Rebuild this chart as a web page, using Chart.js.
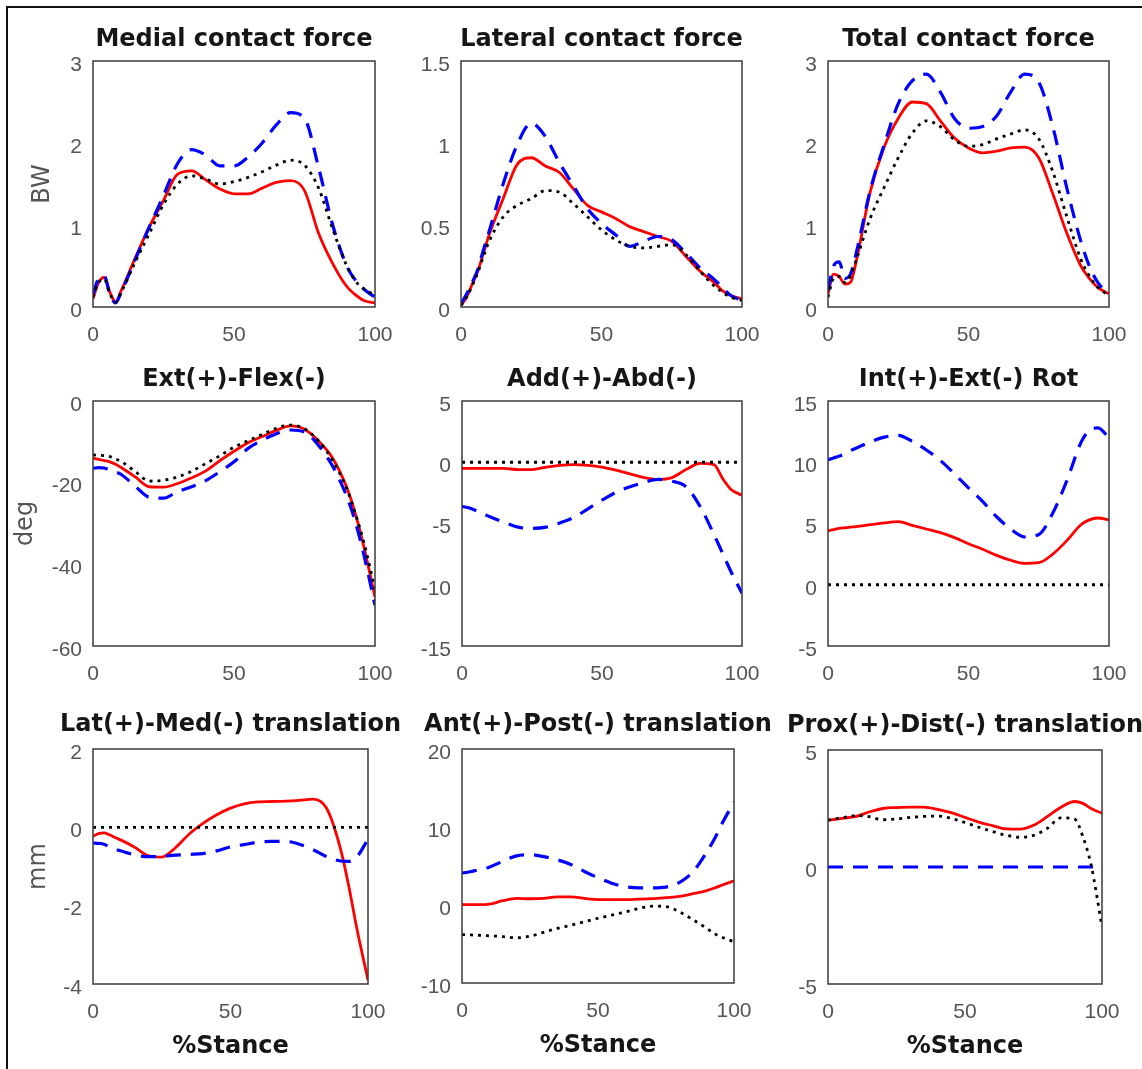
<!DOCTYPE html>
<html>
<head>
<meta charset="utf-8">
<script src="https://cdn.jsdelivr.net/npm/chart.js@4.4.1/dist/chart.umd.min.js"></script>
<style>
  html, body { margin: 0; padding: 0; background: #fff; overflow: hidden; width: 1142px; height: 1069px; }
  .frame { position: absolute; left: 6px; top: 6px; width: 1140px; height: 1070px;
           border-top: 2px solid #111; border-left: 2px solid #111; }
  .panel { position: absolute; }
</style>
</head>
<body>
<div class="frame"></div>
<script>
// % stance sample points shared by every curve
const stance = [0, 2, 4, 6, 8, 10, 15, 20, 25, 30, 35, 40, 45, 50, 55, 60, 65, 70, 75, 80, 85, 90, 93, 96, 100];
const xTicks = [0, 50, 100];

// Medial contact force (BW)
const medialRed   = [0.10, 0.30, 0.36, 0.18, 0.06, 0.20, 0.60, 0.98, 1.30, 1.62, 1.66, 1.55, 1.44, 1.38, 1.38, 1.45, 1.52, 1.54, 1.42, 0.90, 0.53, 0.25, 0.15, 0.08, 0.05];
const medialBlue  = [0.15, 0.35, 0.38, 0.15, 0.05, 0.18, 0.58, 0.98, 1.36, 1.75, 1.92, 1.85, 1.72, 1.72, 1.83, 2.00, 2.22, 2.37, 2.30, 1.70, 1.00, 0.50, 0.33, 0.22, 0.12];
const medialBlack = [0.12, 0.30, 0.34, 0.16, 0.06, 0.18, 0.55, 0.90, 1.25, 1.50, 1.60, 1.56, 1.50, 1.53, 1.58, 1.65, 1.73, 1.79, 1.73, 1.45, 0.95, 0.50, 0.32, 0.22, 0.15];
const medialTicks = [0, 1, 2, 3];

// Lateral contact force (BW)
const lateralRed   = [0.01, 0.06, 0.14, 0.22, 0.33, 0.44, 0.66, 0.87, 0.91, 0.86, 0.82, 0.72, 0.62, 0.58, 0.54, 0.49, 0.46, 0.43, 0.40, 0.31, 0.22, 0.15, 0.10, 0.07, 0.05];
const lateralBlue  = [0.02, 0.08, 0.15, 0.23, 0.35, 0.46, 0.75, 0.99, 1.12, 1.04, 0.88, 0.74, 0.60, 0.51, 0.44, 0.37, 0.40, 0.43, 0.41, 0.33, 0.24, 0.17, 0.12, 0.07, 0.04];
const lateralBlack = [0.01, 0.06, 0.13, 0.21, 0.31, 0.40, 0.55, 0.62, 0.66, 0.71, 0.70, 0.63, 0.55, 0.47, 0.41, 0.37, 0.36, 0.37, 0.38, 0.32, 0.22, 0.13, 0.09, 0.06, 0.04];
const lateralTicks = [0, 0.5, 1, 1.5];

// Total contact force (BW)
const totalRed   = [0.16, 0.40, 0.37, 0.28, 0.30, 0.55, 1.40, 1.95, 2.30, 2.50, 2.48, 2.27, 2.06, 1.94, 1.88, 1.90, 1.94, 1.95, 1.82, 1.38, 0.90, 0.50, 0.35, 0.24, 0.16];
const totalBlue  = [0.20, 0.50, 0.55, 0.35, 0.40, 0.65, 1.42, 1.98, 2.48, 2.76, 2.84, 2.62, 2.30, 2.18, 2.20, 2.33, 2.62, 2.84, 2.74, 2.20, 1.45, 0.80, 0.50, 0.30, 0.16];
const totalBlack = [0.12, 0.35, 0.37, 0.30, 0.38, 0.57, 1.08, 1.46, 1.82, 2.12, 2.27, 2.20, 2.04, 1.96, 1.98, 2.05, 2.11, 2.16, 2.05, 1.65, 1.10, 0.58, 0.38, 0.24, 0.14];
const totalTicks = [0, 1, 2, 3];

// Ext(+)-Flex(-) (deg)
const flexRed   = [-14.0, -14.3, -14.6, -14.9, -15.5, -16.3, -18.6, -21.0, -21.1, -20.2, -18.8, -17.1, -14.6, -12.3, -10.2, -8.7, -7.2, -6.1, -6.9, -9.8, -14.0, -21.2, -27.5, -35.5, -48.0];
const flexBlue  = [-16.5, -16.3, -16.4, -16.9, -17.4, -18.0, -20.9, -23.6, -23.8, -22.2, -21.0, -19.5, -17.3, -14.9, -11.6, -9.6, -8.0, -7.1, -7.6, -10.9, -16.0, -23.4, -29.5, -37.5, -50.0];
const flexBlack = [-13.2, -13.3, -13.4, -13.6, -14.2, -14.8, -17.3, -19.6, -19.4, -18.6, -17.2, -15.3, -13.4, -11.3, -9.7, -8.2, -6.7, -5.9, -6.8, -9.8, -14.6, -21.5, -27.5, -34.5, -46.0];
const flexTicks = [-60, -40, -20, 0];

// Add(+)-Abd(-) (deg)
const addRed   = [-0.5, -0.5, -0.5, -0.5, -0.5, -0.5, -0.5, -0.6, -0.6, -0.4, -0.25, -0.2, -0.25, -0.4, -0.65, -0.95, -1.25, -1.4, -1.25, -0.6, -0.1, -0.2, -1.3, -2.2, -2.7];
const addBlue  = [-3.6, -3.7, -3.85, -4.05, -4.25, -4.45, -4.9, -5.3, -5.4, -5.3, -4.95, -4.5, -3.8, -3.1, -2.45, -2.0, -1.65, -1.4, -1.55, -2.0, -3.6, -5.9, -7.4, -8.9, -10.7];
const addBlack = [0, 0, 0, 0, 0, 0, 0, 0, 0, 0, 0, 0, 0, 0, 0, 0, 0, 0, 0, 0, 0, 0, 0, 0, 0];
const addTicks = [-15, -10, -5, 0, 5];

// Int(+)-Ext(-) Rot (deg)
const rotRed   = [4.4, 4.5, 4.6, 4.65, 4.7, 4.75, 4.9, 5.05, 5.15, 4.85, 4.55, 4.25, 3.85, 3.35, 2.9, 2.4, 2.0, 1.75, 1.8, 2.5, 3.6, 4.9, 5.3, 5.45, 5.3];
const rotBlue  = [10.2, 10.35, 10.5, 10.7, 10.95, 11.15, 11.65, 12.05, 12.2, 11.7, 11.0, 10.15, 9.05, 7.9, 6.8, 5.55, 4.55, 3.9, 4.1, 5.85, 8.5, 11.6, 12.6, 12.8, 12.0];
const rotBlack = [0, 0, 0, 0, 0, 0, 0, 0, 0, 0, 0, 0, 0, 0, 0, 0, 0, 0, 0, 0, 0, 0, 0, 0, 0];
const rotTicks = [-5, 0, 5, 10, 15];

// Lat(+)-Med(-) translation (mm)
const latRed   = [-0.23, -0.16, -0.14, -0.19, -0.26, -0.32, -0.5, -0.72, -0.76, -0.52, -0.17, 0.1, 0.32, 0.49, 0.6, 0.65, 0.66, 0.67, 0.69, 0.72, 0.48, -0.55, -1.5, -2.6, -3.9];
const latBlue  = [-0.4, -0.41, -0.43, -0.5, -0.56, -0.6, -0.7, -0.75, -0.74, -0.71, -0.69, -0.67, -0.6, -0.5, -0.44, -0.38, -0.36, -0.36, -0.43, -0.57, -0.75, -0.86, -0.87, -0.75, -0.3];
const latBlack = [0, 0, 0, 0, 0, 0, 0, 0, 0, 0, 0, 0, 0, 0, 0, 0, 0, 0, 0, 0, 0, 0, 0, 0, 0];
const latTicks = [-4, -2, 0, 2];

// Ant(+)-Post(-) translation (mm)
const antRed   = [0.04, 0.04, 0.04, 0.04, 0.05, 0.1, 0.55, 0.85, 0.8, 0.85, 1.05, 1.05, 0.85, 0.7, 0.7, 0.7, 0.75, 0.82, 0.95, 1.1, 1.45, 1.85, 2.2, 2.6, 3.1];
const antBlue  = [4.1, 4.2, 4.35, 4.5, 4.65, 4.85, 5.6, 6.3, 6.45, 6.2, 5.8, 5.2, 4.3, 3.5, 2.8, 2.35, 2.2, 2.2, 2.3, 2.9, 4.3, 6.8, 8.6, 10.7, 13.2];
const antBlack = [-3.8, -3.82, -3.85, -3.88, -3.92, -3.95, -4.05, -4.2, -4.0, -3.5, -3.0, -2.6, -2.15, -1.7, -1.3, -0.9, -0.45, -0.15, -0.2, -0.9, -1.9, -3.0, -3.7, -4.2, -4.7];
const antTicks = [-10, 0, 10, 20];

// Prox(+)-Dist(-) translation (mm)
const proxRed   = [2.0, 2.03, 2.06, 2.09, 2.12, 2.15, 2.35, 2.5, 2.54, 2.56, 2.56, 2.46, 2.32, 2.12, 1.92, 1.77, 1.63, 1.62, 1.78, 2.15, 2.55, 2.8, 2.72, 2.5, 2.3];
const proxBlue  = [0, 0, 0, 0, 0, 0, 0, 0, 0, 0, 0, 0, 0, 0, 0, 0, 0, 0, 0, 0, 0, 0, 0, 0, 0];
const proxBlack = [2.0, 2.04, 2.08, 2.12, 2.16, 2.2, 2.15, 2.02, 2.05, 2.12, 2.16, 2.18, 2.08, 1.9, 1.7, 1.52, 1.36, 1.27, 1.35, 1.65, 2.1, 2.05, 1.3, 0.1, -2.55];
const proxTicks = [-5, 0, 5];

// plot rectangles in page pixels (l, t, r, b)
const panels = [
  { title: 'Medial contact force', red: medialRed, blue: medialBlue, black: medialBlack, ticks: medialTicks, l: 93, t: 61, r: 375, b: 307, gap: 21, yTitle: 'BW', yPad: 25 },
  { title: 'Lateral contact force', red: lateralRed, blue: lateralBlue, black: lateralBlack, ticks: lateralTicks, l: 461, t: 61, r: 742, b: 307, gap: 21 },
  { title: 'Total contact force', red: totalRed, blue: totalBlue, black: totalBlack, ticks: totalTicks, l: 828, t: 61, r: 1109, b: 307, gap: 21 },
  { title: 'Ext(+)-Flex(-)', red: flexRed, blue: flexBlue, black: flexBlack, ticks: flexTicks, l: 93, t: 401, r: 375, b: 646, gap: 21, yTitle: 'deg', yPad: 8 },
  { title: 'Add(+)-Abd(-)', red: addRed, blue: addBlue, black: addBlack, ticks: addTicks, l: 462, t: 401, r: 742, b: 646, gap: 21 },
  { title: 'Int(+)-Ext(-) Rot', red: rotRed, blue: rotBlue, black: rotBlack, ticks: rotTicks, l: 828, t: 401, r: 1109, b: 646, gap: 21 },
  { title: 'Lat(+)-Med(-) translation', red: latRed, blue: latBlue, black: latBlack, ticks: latTicks, l: 93, t: 749, r: 368, b: 984, gap: 24, yTitle: 'mm', yPad: 21, xTitle: '%Stance' },
  { title: 'Ant(+)-Post(-) translation', red: antRed, blue: antBlue, black: antBlack, ticks: antTicks, l: 462, t: 749, r: 734, b: 983, gap: 24, xTitle: '%Stance' },
  { title: 'Prox(+)-Dist(-) translation', red: proxRed, blue: proxBlue, black: proxBlack, ticks: proxTicks, l: 828, t: 750, r: 1102, b: 984, gap: 24, xTitle: '%Stance' }
];

// box around the axes + bold title above it, like the MATLAB subplot
const boxAndTitle = {
  id: 'boxAndTitle',
  afterDatasetsDraw(chart, args, opts) {
    const { ctx, chartArea: a } = chart;
    ctx.save();
    ctx.strokeStyle = '#3a3a3a';
    ctx.lineWidth = 1.5;
    ctx.strokeRect(a.left, a.top, a.right - a.left, a.bottom - a.top);
    ctx.fillStyle = '#161616';
    ctx.font = 'bold 24px "DejaVu Sans"';
    ctx.textAlign = 'center';
    ctx.textBaseline = 'middle';
    ctx.fillText(opts.text, (a.left + a.right) / 2, a.top - opts.gap);
    ctx.restore();
  }
};

const tickFont = { family: '"Liberation Sans", Arial, sans-serif', size: 21 };
const tickColor = '#555';

function series(values, color, dash, width, order) {
  return {
    data: values.map((v, i) => ({ x: stance[i], y: v })),
    borderColor: color,
    borderDash: dash,
    borderWidth: width,
    pointRadius: 0,
    fill: false,
    cubicInterpolationMode: 'monotone',
    order: order
  };
}

function makePanel(p) {
  const padTop = 60, yW = 90, padRight = 40;
  const xH = p.xTitle ? 80 : 40;
  const w = p.r - p.l + yW + padRight;
  const h = p.b - p.t + padTop + xH;
  const div = document.createElement('div');
  div.className = 'panel';
  div.style.left = (p.l - yW) + 'px';
  div.style.top = (p.t - padTop) + 'px';
  const cv = document.createElement('canvas');
  cv.width = w;
  cv.height = h;
  div.appendChild(cv);
  document.body.appendChild(div);

  new Chart(cv, {
    type: 'line',
    data: {
      datasets: [
        series(p.red, '#ff0000', [], 2.8, 3),
        series(p.blue, '#0000ff', [15, 10], 3.2, 2),
        series(p.black, '#000000', [3, 5], 2.8, 1)
      ]
    },
    options: {
      responsive: false,
      animation: false,
      layout: { padding: { top: padTop, right: padRight, left: 0, bottom: 0 } },
      plugins: {
        legend: { display: false },
        tooltip: { enabled: false },
        boxAndTitle: { text: p.title, gap: p.gap }
      },
      scales: {
        x: {
          type: 'linear',
          min: 0,
          max: 100,
          afterBuildTicks: s => { s.ticks = xTicks.map(v => ({ value: v })); },
          afterFit: s => { s.height = xH; },
          grid: { display: false, drawTicks: false },
          border: { display: false },
          ticks: { font: tickFont, color: tickColor, padding: 16, maxRotation: 0, autoSkip: false },
          title: {
            display: !!p.xTitle,
            text: p.xTitle || '',
            color: '#161616',
            font: { family: '"DejaVu Sans"', size: 24, weight: 'bold' },
            padding: { top: 0, bottom: 3 }
          }
        },
        y: {
          type: 'linear',
          min: p.ticks[0],
          max: p.ticks[p.ticks.length - 1],
          afterBuildTicks: s => { s.ticks = p.ticks.map(v => ({ value: v })); },
          afterFit: s => { s.width = yW; },
          grid: { display: false, drawTicks: false },
          border: { display: false },
          ticks: { font: tickFont, color: tickColor, padding: 11, autoSkip: false, labelOffset: 4,
                   callback: v => String(v) },
          title: {
            display: !!p.yTitle,
            text: p.yTitle || '',
            color: '#555',
            font: { family: '"DejaVu Sans"', size: 24 },
            padding: { top: p.yPad || 0, bottom: 0 }
          }
        }
      }
    },
    plugins: [boxAndTitle]
  });
}

panels.forEach(makePanel);
</script>
</body>
</html>
